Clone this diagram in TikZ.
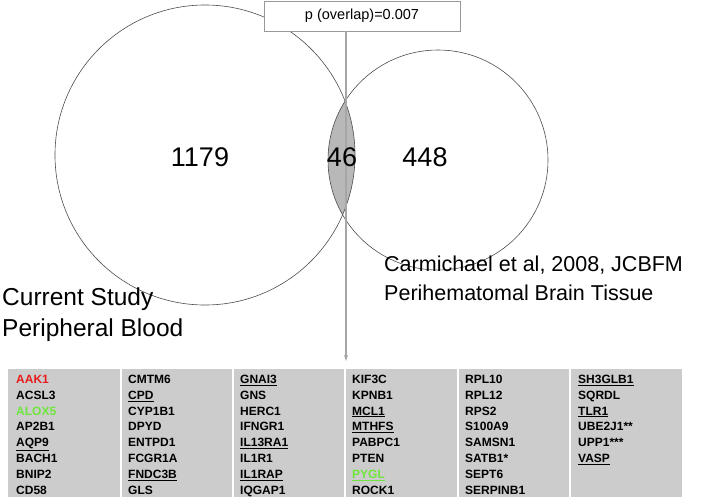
\documentclass[tikz,border=0pt]{standalone}
\usepackage{fontspec}
\setmainfont{Liberation Sans}
\usetikzlibrary{arrows.meta}
\definecolor{cellgray}{RGB}{204,204,204}
\definecolor{genegreen}{RGB}{110,230,60}
\definecolor{genered}{RGB}{230,30,30}
\begin{document}
\begin{tikzpicture}[x=1pt,y=-1pt]
\tikzset{
    venn/.style={draw=black!70, line width=0.6pt},
    bignum/.style={font=\fontsize{27}{30}\selectfont, anchor=center},
    setlabel/.style={font=\fontsize{21.5}{29}\selectfont, align=left, anchor=north west, inner sep=0pt},
    gene/.style={font=\fontsize{12}{13}\selectfont\bfseries, anchor=west, inner sep=0pt, text height=9pt, text depth=2pt},
    myarrow/.style={-{Stealth[length=6pt,width=4pt]}, draw=black!35, line width=1.3pt}
}
\useasboundingbox (0,0) rectangle (708,498);
% overlap region
\begin{scope}
\clip (205,155) circle (150);
\fill[cellgray!90!black] (438,160) circle (110);
\end{scope}
\draw[venn] (205,155) circle (150);
\draw[venn] (438,160) circle (110);
\node[draw=black!40, fill=white, font=\fontsize{14.5}{17}\selectfont, minimum width=196pt, minimum height=30pt] (pbox) at (362,16) {p (overlap)=0.007};
% gene table
\fill[cellgray] (8,369) rectangle (682,497);
\foreach \x in {121,233,345,458,570} \draw[white, line width=1.5pt] (\x,369) -- (\x,497);
\coordinate (tab) at (346,361);
\draw[myarrow] (pbox.south -| tab) -- (tab);
\node[bignum] (n1) at (200,157) {1179};
\node[bignum] (n2) at (342,157) {46};
\node[bignum] (n3) at (425,157) {448};
\node[setlabel, font=\fontsize{24.5}{31}\selectfont] (lab1) at (2,288) {Current Study\\Peripheral Blood};
\node[setlabel] (lab2) at (384,256) {Carmichael et al, 2008, JCBFM\\Perihematomal Brain Tissue};
\foreach \c/\x in {1/16,2/128,3/240,4/352,5/465,6/578} \coordinate (col\c) at (\x,380);
\foreach \g [count=\i from 0] in {{\color{genered}AAK1},ACSL3,{\color{genegreen}ALOX5},AP2B1,\underline{AQP9},BACH1,BNIP2,CD58}
  \node[gene] at ([yshift=-15.8*\i]col1) {\g};
\foreach \g [count=\i from 0] in {CMTM6,\underline{CPD},CYP1B1,DPYD,ENTPD1,FCGR1A,\underline{FNDC3B},GLS}
  \node[gene] at ([yshift=-15.8*\i]col2) {\g};
\foreach \g [count=\i from 0] in {\underline{GNAI3},GNS,HERC1,IFNGR1,\underline{IL13RA1},IL1R1,\underline{IL1RAP},IQGAP1}
  \node[gene] at ([yshift=-15.8*\i]col3) {\g};
\foreach \g [count=\i from 0] in {KIF3C,KPNB1,\underline{MCL1},\underline{MTHFS},PABPC1,PTEN,{\color{genegreen}\underline{PYGL}},ROCK1}
  \node[gene] at ([yshift=-15.8*\i]col4) {\g};
\foreach \g [count=\i from 0] in {RPL10,RPL12,RPS2,S100A9,SAMSN1,SATB1*,SEPT6,SERPINB1}
  \node[gene] at ([yshift=-15.8*\i]col5) {\g};
\foreach \g [count=\i from 0] in {\underline{SH3GLB1},SQRDL,\underline{TLR1},UBE2J1**,UPP1***,\underline{VASP}}
  \node[gene] at ([yshift=-15.8*\i]col6) {\g};
\end{tikzpicture}
\end{document}
